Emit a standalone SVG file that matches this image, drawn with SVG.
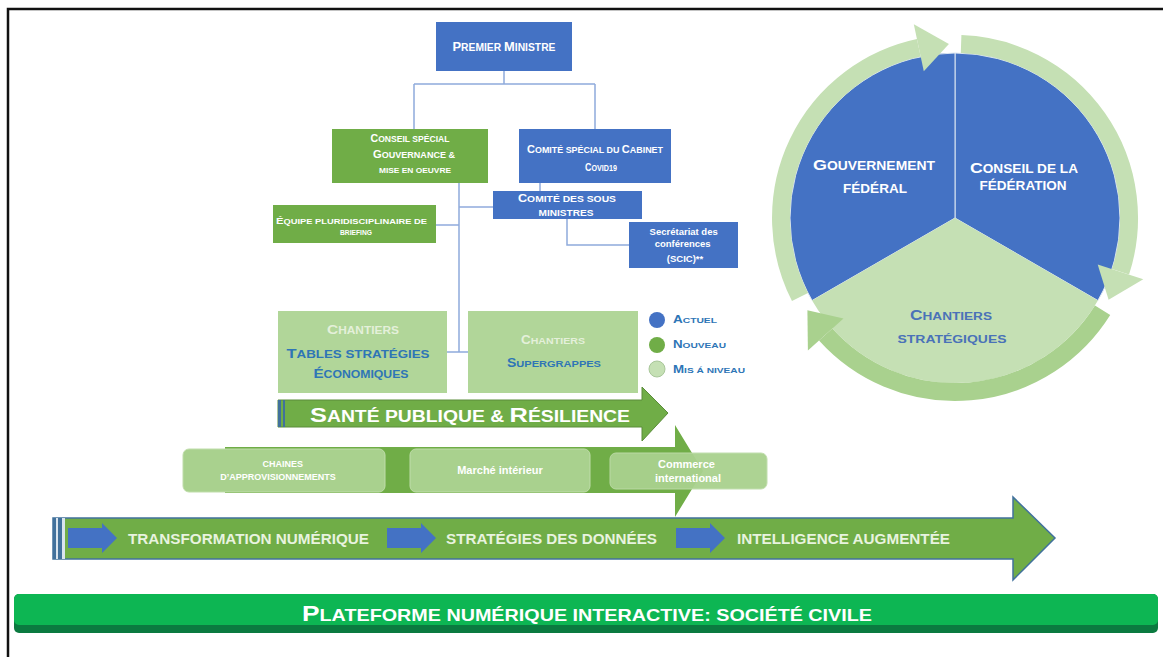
<svg xmlns="http://www.w3.org/2000/svg" width="1163" height="657" viewBox="0 0 1163 657">
<style>
text { font-family: "Liberation Sans", Arial, sans-serif; font-weight: bold; }
.nar { font-family: "Liberation Sans Narrow", "Liberation Sans", Arial, sans-serif; }
.w { fill: #ffffff; }
.blue { fill: #4472C4; }
.green { fill: #70AD47; }
.lg { fill: #A9D18E; }
.conn { fill: none; stroke: #8FAADC; stroke-width: 1.5; }
.tb { fill: #2E75B6; }
.lt { fill: #E8F3DF; }
</style>
<rect width="1163" height="657" fill="#ffffff"/>
<path d="M8,657 V9 H1163" fill="none" stroke="#111" stroke-width="2.5"/>

<g id="connectors">
  <path class="conn" d="M504,71 V84 M414,84 H595 M414,84 V129 M595,84 V129"/>
  <path class="conn" d="M540,183 V191"/>
  <path class="conn" d="M459,183 V352 M447,352 H468"/>
  <path class="conn" d="M459,207 H493"/>
  <path class="conn" d="M436,225 H459"/>
  <path class="conn" d="M567,219 V245 H629"/>
</g>

<g id="premier-ministre">
  <rect class="blue" x="436" y="22" width="136" height="49"/>
  <text class="w" x="504" y="51" font-size="10" text-anchor="middle" textLength="103" lengthAdjust="spacingAndGlyphs"><tspan font-size="12.5">P</tspan>REMIER <tspan font-size="12.5">M</tspan>INISTRE</text>
</g>
<g id="conseil-special">
  <rect class="green" x="332" y="129" width="156" height="54"/>
  <text class="w" x="410" y="142" font-size="8.5" text-anchor="middle" textLength="79" lengthAdjust="spacingAndGlyphs"><tspan font-size="10.5">C</tspan>ONSEIL SPÉCIAL</text>
  <text class="w" x="414" y="158" font-size="8.5" text-anchor="middle" textLength="82" lengthAdjust="spacingAndGlyphs"><tspan font-size="10.5">G</tspan>OUVERNANCE &amp;</text>
  <text class="w" x="415" y="173" font-size="8" text-anchor="middle" textLength="72" lengthAdjust="spacingAndGlyphs">MISE EN OEUVRE</text>
</g>
<g id="comite-special">
  <rect class="blue" x="519" y="129" width="152" height="54"/>
  <text class="w" x="595" y="153" font-size="8.5" text-anchor="middle" textLength="136" lengthAdjust="spacingAndGlyphs"><tspan font-size="10.5">C</tspan>OMITÉ SPÉCIAL DU <tspan font-size="10.5">C</tspan>ABINET</text>
  <text class="w" x="601" y="171" font-size="8.5" text-anchor="middle" textLength="32" lengthAdjust="spacingAndGlyphs"><tspan font-size="10.5">C</tspan>OVID19</text>
</g>
<g id="comite-sous-ministres">
  <rect class="blue" x="493" y="191" width="149" height="28"/>
  <text class="w" x="567" y="202" font-size="9" text-anchor="middle" textLength="98" lengthAdjust="spacingAndGlyphs"><tspan font-size="11">C</tspan>OMITÉ DES SOUS</text>
  <text class="w" x="566" y="216" font-size="9" text-anchor="middle" textLength="55" lengthAdjust="spacingAndGlyphs">MINISTRES</text>
</g>
<g id="equipe">
  <rect class="green" x="273" y="205" width="163" height="38"/>
  <text class="w" x="276" y="224" font-size="7.5" textLength="151" lengthAdjust="spacingAndGlyphs"><tspan font-size="9">É</tspan>QUIPE PLURIDISCIPLINAIRE  DE</text>
  <text class="w" x="356" y="235" font-size="7.5" text-anchor="middle" textLength="32" lengthAdjust="spacingAndGlyphs">BRIEFING</text>
</g>
<g id="secretariat">
  <rect class="blue" x="629" y="222" width="109" height="46"/>
  <text class="w" font-size="9.5" text-anchor="middle">
    <tspan x="685" y="235">Secrétariat des</tspan>
    <tspan x="684" y="247">conférences</tspan>
    <tspan x="685" y="262">(SCIC)**</tspan>
  </text>
</g>

<g id="chantiers-tables">
  <rect class="lg" x="278" y="311" width="169" height="82" opacity="0.9"/>
  <text x="363" y="334" font-size="10" fill="#E4F0DA" text-anchor="middle" textLength="72" lengthAdjust="spacingAndGlyphs"><tspan font-size="13">C</tspan>HANTIERS</text>
  <text x="358" y="358" font-size="10.5" fill="#2E75B6" text-anchor="middle" textLength="143" lengthAdjust="spacingAndGlyphs"><tspan font-size="13">T</tspan>ABLES STRATÉGIES</text>
  <text x="361" y="378" font-size="10.5" fill="#2E75B6" text-anchor="middle" textLength="95" lengthAdjust="spacingAndGlyphs"><tspan font-size="13">É</tspan>CONOMIQUES</text>
</g>
<g id="chantiers-supergrappes">
  <rect class="lg" x="468" y="311" width="170" height="82" opacity="0.9"/>
  <text x="553" y="344" font-size="9.5" fill="#E4F0DA" text-anchor="middle" textLength="64" lengthAdjust="spacingAndGlyphs"><tspan font-size="12">C</tspan>HANTIERS</text>
  <text x="554" y="367" font-size="9.5" fill="#2E75B6" text-anchor="middle" textLength="94" lengthAdjust="spacingAndGlyphs"><tspan font-size="12">S</tspan>UPERGRAPPES</text>
</g>

<g id="legende">
  <circle cx="657" cy="320" r="8" fill="#4472C4"/>
  <circle cx="657" cy="345" r="8" fill="#70AD47"/>
  <circle cx="657" cy="369" r="8" fill="#C5E0B4" stroke="#A9C79A"/>
  <text class="tb" x="673" y="323" font-size="8" textLength="44" lengthAdjust="spacingAndGlyphs"><tspan font-size="10.5">A</tspan>CTUEL</text>
  <text class="tb" x="673" y="348" font-size="8" textLength="53" lengthAdjust="spacingAndGlyphs"><tspan font-size="10.5">N</tspan>OUVEAU</text>
  <text class="tb" x="673" y="373" font-size="8" textLength="72" lengthAdjust="spacingAndGlyphs"><tspan font-size="10.5">M</tspan>IS Á NIVEAU</text>
</g>

<g id="fleche-chaines">
  <path d="M225,447 H675 V425 L703,471 L675,517 V493 H225 Z" fill="#70AD47"/>
  <rect x="183" y="449" width="202" height="43" rx="6" fill="#A9D18E" stroke="#BFDDAA" stroke-width="1"/>
  <rect x="410" y="449" width="180" height="43" rx="6" fill="#A9D18E" stroke="#BFDDAA" stroke-width="1"/>
  <rect x="610" y="453" width="157" height="36" rx="6" fill="#A9D18E" stroke="#BFDDAA" stroke-width="1" opacity="0.95"/>
  <text class="w" font-size="9" text-anchor="middle">
    <tspan x="284" y="467">CHAINES</tspan>
    <tspan x="278" y="480">D’APPROVISIONNEMENTS</tspan>
  </text>
  <text class="w" x="500" y="474" font-size="11" text-anchor="middle">Marché intérieur</text>
  <text class="w" font-size="11" text-anchor="middle">
    <tspan x="688" y="468">Commerce</tspan>
    <tspan x="688" y="482">international</tspan>
  </text>
</g>

<g id="fleche-sante">
  <path d="M278,400 H642 V387 L668,413 L642,441 V427 H278 Z" fill="#70AD47" stroke="#5A8C3A" stroke-width="1"/>
  <rect x="278" y="400" width="3" height="27" fill="#41719C"/>
  <rect x="283" y="400" width="2" height="27" fill="#41719C"/>
  <text class="w" x="310" y="422" font-size="16" textLength="320" lengthAdjust="spacingAndGlyphs"><tspan font-size="21">S</tspan>ANTÉ PUBLIQUE &amp; <tspan font-size="21">R</tspan>ÉSILIENCE</text>
</g>

<g id="fleche-numerique">
  <path d="M53,518 H1013 V497 L1055,538 L1013,580 V559 H53 Z" fill="#70AD47" stroke="#41719C" stroke-width="1.5"/>
  <rect x="53" y="518" width="3" height="41" fill="#41719C"/>
  <rect x="58" y="518" width="4" height="41" fill="#41719C"/>
  <rect x="56" y="518" width="2" height="41" fill="#D9E4EE"/>
  <rect x="62" y="518" width="3" height="41" fill="#D9E4EE"/>
  <path d="M68,528 H102 V523 L117,538 L102,553 V548 H68 Z" fill="#4472C4"/>
  <path d="M387,528 H421 V523 L436,538 L421,553 V548 H387 Z" fill="#4472C4"/>
  <path d="M676,528 H710 V523 L725,538 L710,553 V548 H676 Z" fill="#4472C4"/>
  <text class="nar lt" x="128" y="544" font-size="14" textLength="241" lengthAdjust="spacingAndGlyphs">TRANSFORMATION NUMÉRIQUE</text>
  <text class="nar lt" x="446" y="544" font-size="14" textLength="211" lengthAdjust="spacingAndGlyphs">STRATÉGIES DES DONNÉES</text>
  <text class="nar lt" x="737" y="544" font-size="14" textLength="213" lengthAdjust="spacingAndGlyphs">INTELLIGENCE AUGMENTÉE</text>
</g>

<g id="plateforme">
  <rect x="14" y="594" width="1144" height="39" rx="5" fill="#0B7A40"/>
  <rect x="14" y="594" width="1144" height="31" rx="5" fill="#0DB653"/>
  <text class="nar w" x="302" y="621" font-size="16.5" textLength="570" lengthAdjust="spacingAndGlyphs"><tspan font-size="22">P</tspan>LATEFORME NUMÉRIQUE INTERACTIVE:  SOCIÉTÉ CIVILE</text>
</g>

<g id="cycle">
  <path d="M955,218 L955,53 A165,165 0 0 1 1097.9,300.5 Z" fill="#4472C4" stroke="#DCE6F2" stroke-width="1"/>
  <path d="M955,218 L812.1,300.5 A165,165 0 0 1 955,53 Z" fill="#4472C4" stroke="#DCE6F2" stroke-width="1"/>
  <path d="M955,218 L1097.9,300.5 A165,165 0 0 1 812.1,300.5 Z" fill="#C5E0B4"/>
  <path d="M800,297 A174,174 0 0 1 918.8,47.8" fill="none" stroke="#C5E0B4" stroke-width="18"/>
  <polygon points="923.8,71.3 913.8,24.3 948.9,44.1" fill="#C5E0B4"/>
  <path d="M961.1,44.1 A174,174 0 0 1 1120.5,271.8" fill="none" stroke="#C5E0B4" stroke-width="18"/>
  <polygon points="1097.7,264.4 1143.3,279.2 1108.6,299.7" fill="#C5E0B4"/>
  <path d="M1102.6,310.2 A174,174 0 0 1 825.7,334.4" fill="none" stroke="#A9D18E" stroke-width="18"/>
  <polygon points="843.5,318.4 807.9,350.5 807.4,310.2" fill="#A9D18E"/>
  <text class="w" x="874" y="170" font-size="12" text-anchor="middle" textLength="122" lengthAdjust="spacingAndGlyphs"><tspan font-size="15.5">G</tspan>OUVERNEMENT</text>
  <text class="w" x="875" y="193" font-size="12" text-anchor="middle" textLength="64" lengthAdjust="spacingAndGlyphs">FÉDÉRAL</text>
  <text class="w" x="1024" y="173" font-size="12" text-anchor="middle" textLength="108" lengthAdjust="spacingAndGlyphs"><tspan font-size="15.5">C</tspan>ONSEIL DE LA</text>
  <text class="w" x="1023" y="190" font-size="12" text-anchor="middle" textLength="87" lengthAdjust="spacingAndGlyphs">FÉDÉRATION</text>
  <text x="951" y="320" font-size="11" fill="#4A72B8" text-anchor="middle" textLength="82" lengthAdjust="spacingAndGlyphs"><tspan font-size="14">C</tspan>HANTIERS</text>
  <text x="952" y="343" font-size="11" fill="#4A72B8" text-anchor="middle" textLength="109" lengthAdjust="spacingAndGlyphs">STRATÉGIQUES</text>
</g>
</svg>
